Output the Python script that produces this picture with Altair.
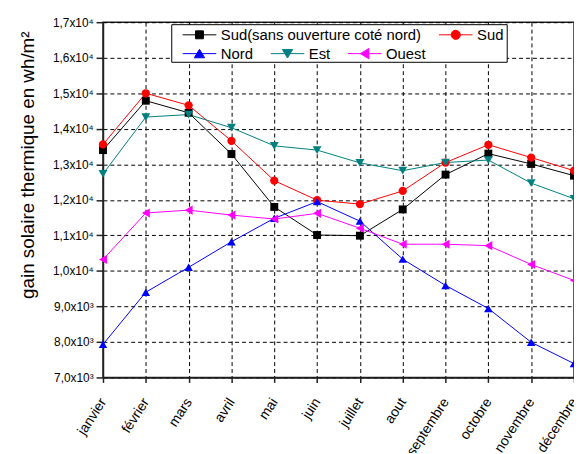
import altair as alt
import pandas as pd

mois = ["janvier", "février", "mars", "avril", "mai", "juin", "juillet",
        "aout", "septembre", "octobre", "novembre", "décembre"]
series = ["Sud(sans ouverture coté nord)", "Sud", "Nord", "Est", "Ouest"]

sud_sans = [13400, 14790, 14450, 13290, 11800, 11010, 10990, 11730, 12710, 13300, 13010, 12680]
sud = [13560, 15000, 14660, 13660, 12540, 11990, 11880, 12250, 13050, 13550, 13190, 12820]
nord = [7930, 9400, 10100, 10820, 11480, 11950, 11400, 10330, 9590, 8940, 7990, 7390]
est = [12730, 14330, 14400, 14030, 13520, 13400, 13040, 12820, 13050, 13120, 12470, 12030]
ouest = [10320, 11630, 11710, 11570, 11460, 11620, 11200, 10750, 10750, 10710, 10180, 9730]

y_ticks = [7000, 8000, 9000, 10000, 11000, 12000, 13000, 14000, 15000, 16000, 17000]

colors = ["#000000", "#ff0000", "#0000ff", "#008080", "#ff00ff"]
shapes = ["square", "circle", "triangle-up", "triangle-down", "triangle-left"]
sizes = [64, 86, 100, 100, 100]

# legend symbols: line segment + marker (custom paths)
ln = "M-4.25,0H4.25"
leg_paths = [
    ln + "M-1,-1H1V1H-1Z",
    ln + "M1.15,0A1.15,1.15 0 1,1 -1.15,0A1.15,1.15 0 1,1 1.15,0Z",
    ln + "M0,-1.1L1.3,1.05L-1.3,1.05Z",
    ln + "M0,1.1L1.3,-1.05L-1.3,-1.05Z",
    ln + "M-1.1,0L1.05,-1.3L1.05,1.3Z",
]

rows = []
for s, vals in zip(series, [sud_sans, sud, nord, est, ouest]):
    for i, (m, v) in enumerate(zip(mois, vals)):
        rows.append({"mois": m, "serie": s, "valeur": v, "ordre": i})
df = pd.DataFrame(rows)

FONT = "Liberation Sans"

x = alt.X("mois:N", sort=mois, scale=alt.Scale(type="point", padding=0),
          axis=alt.Axis(title=None, labelAngle=-57, labelAlign="right",
                        labelBaseline="middle", labelPadding=17, tickSize=5,
                        grid=True, gridDash=[4, 3], gridColor="#000",
                        gridWidth=1, labelFont=FONT, labelFontSize=14,
                        labelColor="#000", domainColor="#222", domainWidth=1.5,
                        tickColor="#222", tickWidth=1.5))
y = alt.Y("valeur:Q", scale=alt.Scale(domain=[7000, 17000], nice=False, zero=False),
          axis=alt.Axis(values=y_ticks,
                        labelExpr="replace(format(datum.value / (datum.value >= 10000 ? 10000 : 1000), '.1f'), '.', ',') + (datum.value >= 10000 ? 'x10⁴' : 'x10³')",
                        title="gain solaire thermique en wh/m²",
                        titleX=-70, titleY=144, titleAngle=270,
                        titleBaseline="alphabetic", titleAlign="center",
                        titleFont=FONT, titleFontSize=19, titleFontWeight="normal",
                        titleColor="#000",
                        grid=True, gridDash=[4, 3], gridColor="#000", gridWidth=1,
                        tickSize=7, labelPadding=3, labelFont=FONT, labelFontSize=12,
                        labelColor="#000", domainColor="#222", domainWidth=1.5,
                        tickColor="#222", tickWidth=1.5))

color_scale = alt.Scale(domain=series, range=colors)

base = alt.Chart(df)

lines = base.mark_line(strokeWidth=1).encode(
    x=x, y=y,
    color=alt.Color("serie:N", scale=color_scale, legend=None),
    order=alt.Order("ordre:Q"),
)

points = base.mark_point(filled=True, opacity=1).encode(
    x=x, y=y,
    color=alt.Color("serie:N", scale=color_scale, legend=None),
    shape=alt.Shape("serie:N", scale=alt.Scale(domain=series, range=shapes), legend=None),
    size=alt.Size("serie:N", scale=alt.Scale(domain=series, range=sizes), legend=None),
)

common = dict(orient="none", direction="horizontal", padding=3, symbolSize=64,
              symbolStrokeWidth=1, symbolOffset=18, labelOffset=14, labelFont=FONT,
              labelFontSize=15, labelColor="#000", labelLimit=400, columnPadding=9)

# first row of the legend, its frame stretched down with a blank bottom title
leg_a = alt.Legend(legendX=69, legendY=2, title="\u00a0", titleOrient="bottom",
                   titleFontSize=13, titlePadding=3, strokeColor="black",
                   fillColor="white", **common)
# second row of the legend, drawn inside the same frame
leg_b = alt.Legend(legendX=69, legendY=21, title=None, **common)


def legend_layer(idx, leg):
    dom = [series[i] for i in idx]
    col = [colors[i] for i in idx]
    pth = [leg_paths[i] for i in idx]
    return base.transform_filter("false").mark_point(
        filled=True, opacity=1, size=64, strokeWidth=1).encode(
        x=x, y=y,
        fill=alt.Fill("serie:N", scale=alt.Scale(domain=dom, range=col), legend=leg),
        stroke=alt.Stroke("serie:N", scale=alt.Scale(domain=dom, range=col), legend=leg),
        shape=alt.Shape("serie:N", scale=alt.Scale(domain=dom, range=pth), legend=leg),
    )


chart = alt.layer(lines, points, legend_layer([0, 1], leg_a),
                  legend_layer([2, 3, 4], leg_b)).resolve_scale(
    color="independent", shape="independent", size="independent",
    fill="independent", stroke="independent",
).properties(
    width=476, height=359,
    autosize=alt.AutoSizeParams(type="none"),
    padding={"left": 96, "top": 12, "right": 0, "bottom": 74},
).configure_view(stroke="#222", strokeWidth=1.5)

chart.save("out.html", embed_options={"renderer": "svg", "actions": False})
